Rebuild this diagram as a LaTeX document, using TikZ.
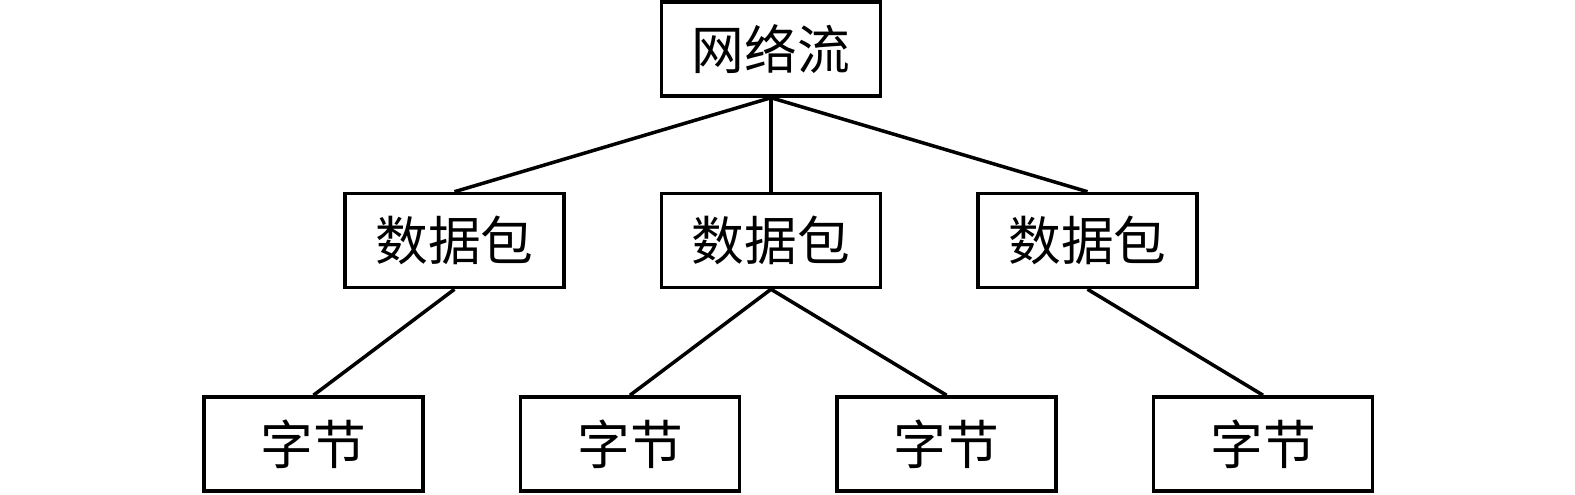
\documentclass[tikz,border=0pt]{standalone}
\usepackage{fontspec}
\usepackage{tikz}
\usetikzlibrary{positioning}
\newfontfamily\cjk{Noto Sans CJK SC}

\begin{document}
\begin{tikzpicture}[
  box/.style = {rectangle, draw, line width=1pt, minimum width=2.19cm, minimum height=0.94cm, inner sep=0pt, text centered, font=\cjk\fontsize{15pt}{18pt}\selectfont},
  link/.style = {line width=1pt},
  node distance=0.94cm and 0.94cm
  ]
  \useasboundingbox (0,0) rectangle (15.75,4.95);

  % Noeuds
  \node[box] (flow) at (7.71,4.46) {网络流};
  \node[box, below=of flow] (packet2) {数据包};
  \node[box, left=of packet2] (packet1) {数据包};
  \node[box, right=of packet2] (packet3) {数据包};
  \node[box] (byte1) at (3.135,0.51) {字节};
  \node[box, right=of byte1] (byte2) {字节};
  \node[box, right=of byte2] (byte3) {字节};
  \node[box, right=of byte3] (byte4) {字节};

  % Liens
  \draw[link] (flow.south) -- (packet1.north);
  \draw[link] (flow.south) -- (packet2.north);
  \draw[link] (flow.south) -- (packet3.north);
  \draw[link] (packet1.south) -- (byte1.north);
  \draw[link] (packet2.south) -- (byte2.north);
  \draw[link] (packet2.south) -- (byte3.north);
  \draw[link] (packet3.south) -- (byte4.north);

\end{tikzpicture}
\end{document}
